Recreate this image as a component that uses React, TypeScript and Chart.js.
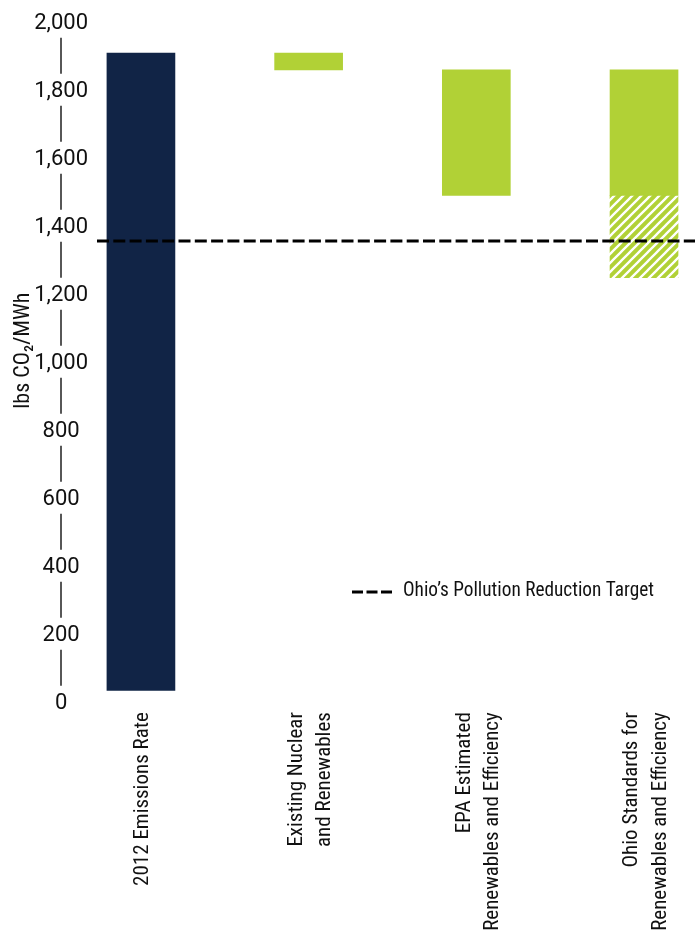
import { useEffect, useRef } from "react";
import { Chart, registerables } from "chart.js";

Chart.register(...registerables);

// Categories along the x axis (multi-line labels)
const categories: string[][] = [
  ["2012 Emissions Rate"],
  ["Existing Nuclear", "and Renewables"],
  ["EPA Estimated", "Renewables and Efficiency"],
  ["Ohio Standards for", "Renewables and Efficiency"],
];

// Values in lbs CO2/MWh: [bottom, top] of each floating bar
const emissionsRate2012: [number, number] = [0, 1875];
const existingNuclearRenewables: [number, number] = [1826, 1875];
const epaRenewablesEfficiency: [number, number] = [1457, 1826];
const ohioStandardsSolid: [number, number] = [1457, 1826];
const ohioStandardsHatched: [number, number] = [1215, 1457];
const pollutionTarget = 1323;
const targetLabel = "Ohio\u2019s Pollution Reduction Target";

const yTicks = [0, 200, 400, 600, 800, 1000, 1200, 1400, 1600, 1800, 2000];
const yTitle = "lbs CO\u2082/MWh";

const NAVY = "#112446";
const GREEN = "#b1d136";
const INK = "#111111";
const TEXT_FONT = '"Roboto Condensed", "DejaVu Sans Condensed", sans-serif';
const NUM_FONT = 'Roboto, "Liberation Sans", sans-serif';

// x range: categories sit at 0..3, with room for the y axis and the target line
const X_MIN = -0.262;
const X_MAX = 3.304;
const LABEL_SHIFT = 12.5;

function makeHatch(ctx: CanvasRenderingContext2D): CanvasPattern | string {
  const size = 9;
  const c = document.createElement("canvas");
  c.width = size;
  c.height = size;
  const p = c.getContext("2d");
  if (!p) return GREEN;
  p.fillStyle = GREEN;
  p.fillRect(0, 0, size, size);
  p.strokeStyle = "#ffffff";
  p.lineWidth = 2.3;
  p.beginPath();
  p.moveTo(-size, 2 * size);
  p.lineTo(2 * size, -size);
  p.moveTo(-size, size);
  p.lineTo(size, -size);
  p.moveTo(0, 2 * size);
  p.lineTo(2 * size, 0);
  p.stroke();
  return ctx.createPattern(c, "repeat") || GREEN;
}

// Broken axis line: short vertical strokes between the tick labels
const axisSegments = {
  id: "axisSegments",
  afterDraw(chart: any) {
    const y = chart.scales.y;
    const ctx = chart.ctx;
    const x = 61;
    ctx.save();
    ctx.strokeStyle = INK;
    ctx.lineWidth = 1.4;
    ctx.beginPath();
    for (let i = 0; i < yTicks.length - 1; i++) {
      const lo = y.getPixelForValue(yTicks[i]) + LABEL_SHIFT;
      const hi = y.getPixelForValue(yTicks[i + 1]) + LABEL_SHIFT;
      ctx.moveTo(x, hi + 14.5);
      ctx.lineTo(x, lo - 17.5);
    }
    ctx.stroke();
    ctx.restore();
  },
};

// Vertical category labels, each block of lines centred on its bar
const categoryLabels = {
  id: "categoryLabels",
  afterDraw(chart: any) {
    const xs = chart.scales.x;
    const ctx = chart.ctx;
    const size = 21;
    const top = chart.chartArea.bottom + 21.5;
    const lineGap = 28.5;
    const capH = 0.711 * size;
    ctx.save();
    ctx.font = `${size}px ${TEXT_FONT}`;
    ctx.fillStyle = INK;
    ctx.textAlign = "right";
    ctx.textBaseline = "alphabetic";
    categories.forEach((lines, i) => {
      const cx = xs.getPixelForValue(i);
      lines.forEach((line, j) => {
        const center = cx + (j - (lines.length - 1) / 2) * lineGap;
        ctx.save();
        ctx.translate(center + capH / 2, top);
        ctx.rotate(-Math.PI / 2);
        ctx.fillText(line, 0, 0);
        ctx.restore();
      });
    });
    ctx.restore();
  },
};

// Legend entry for the dashed target line
const targetLegend = {
  id: "targetLegend",
  afterDraw(chart: any) {
    const ctx = chart.ctx;
    const yMid = 592;
    ctx.save();
    ctx.strokeStyle = "#000";
    ctx.lineWidth = 3;
    ctx.setLineDash([11, 3.5]);
    ctx.beginPath();
    ctx.moveTo(352, yMid);
    ctx.lineTo(392, yMid);
    ctx.stroke();
    ctx.setLineDash([]);
    ctx.fillStyle = INK;
    ctx.font = `19.3px ${TEXT_FONT}`;
    ctx.textBaseline = "middle";
    ctx.textAlign = "left";
    ctx.fillText(targetLabel, 403, yMid - 1);
    ctx.restore();
  },
};

export default function App() {
  const canvasRef = useRef<HTMLCanvasElement | null>(null);

  useEffect(() => {
    const canvas = canvasRef.current;
    if (!canvas) return;
    const ctx = canvas.getContext("2d");
    if (!ctx) return;
    const hatch = makeHatch(ctx);

    const chart = new Chart(ctx, {
      type: "bar",
      data: {
        datasets: [
          {
            type: "line",
            label: targetLabel,
            data: [
              { x: X_MIN, y: pollutionTarget },
              { x: X_MAX, y: pollutionTarget },
            ],
            borderColor: "#000",
            borderWidth: 3,
            borderDash: [12, 4.3],
            pointRadius: 0,
            order: 0,
          } as any,
          {
            type: "bar",
            label: "2012 Emissions Rate",
            data: [{ x: 0, y: emissionsRate2012 }],
            backgroundColor: NAVY,
            grouped: false,
            barThickness: 68,
            order: 1,
          } as any,
          {
            type: "bar",
            label: "Clean energy reductions",
            data: [
              { x: 1, y: existingNuclearRenewables },
              { x: 2, y: epaRenewablesEfficiency },
              { x: 3, y: ohioStandardsSolid },
            ],
            backgroundColor: GREEN,
            grouped: false,
            barThickness: 68,
            order: 1,
          } as any,
          {
            type: "bar",
            label: "Additional Ohio standards",
            data: [{ x: 3, y: ohioStandardsHatched }],
            backgroundColor: hatch,
            grouped: false,
            barThickness: 68,
            order: 1,
          } as any,
        ],
      },
      options: {
        responsive: false,
        animation: false,
        devicePixelRatio: 1,
        layout: { padding: { top: 10.7, left: 0, right: 0, bottom: 0 } },
        plugins: {
          legend: { display: false },
          tooltip: { enabled: false },
        },
        scales: {
          x: {
            type: "linear",
            min: X_MIN,
            max: X_MAX,
            offset: false,
            grid: { display: false, drawTicks: false },
            border: { display: false },
            ticks: { display: false },
            afterFit: (scale: any) => {
              scale.height = 248.3;
              scale.paddingLeft = 0;
              scale.paddingRight = 0;
            },
          },
          y: {
            type: "linear",
            min: 0,
            max: 2000,
            grid: { display: false, drawTicks: false },
            border: { display: false },
            afterBuildTicks: (scale: any) => {
              scale.ticks = yTicks.map((v) => ({ value: v }));
            },
            afterFit: (scale: any) => {
              scale.width = 97;
              scale.paddingTop = 0;
              scale.paddingBottom = 0;
            },
            title: {
              display: true,
              text: yTitle,
              color: INK,
              font: { family: TEXT_FONT, size: 22 },
              padding: { top: 10, bottom: 0 },
            },
            ticks: {
              padding: 9,
              crossAlign: "center",
              labelOffset: LABEL_SHIFT,
              color: INK,
              font: { family: NUM_FONT, size: 22 },
              callback: (value: any) => Number(value).toLocaleString("en-US"),
            },
          },
        },
      },
      plugins: [axisSegments, categoryLabels, targetLegend],
    });

    return () => chart.destroy();
  }, []);

  return (
    <div style={{ position: "fixed", left: 0, top: 0, width: 695, height: 939, background: "#fff" }}>
      <canvas ref={canvasRef} width={695} height={939} />
    </div>
  );
}
